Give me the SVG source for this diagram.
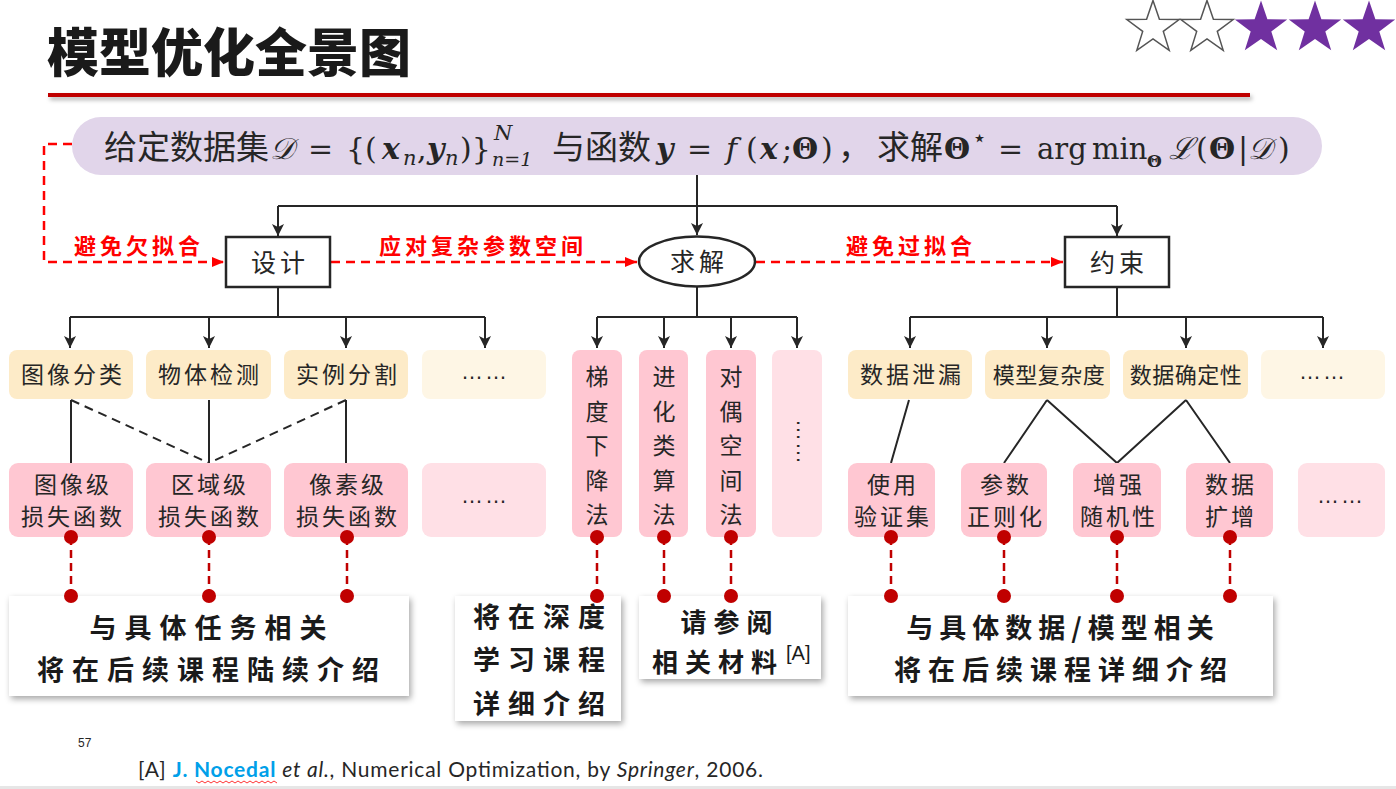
<svg xmlns="http://www.w3.org/2000/svg" width="1396" height="789" viewBox="0 0 1396 789">
<defs>
<style>
.cjk{font-family:"Noto Sans CJK SC",sans-serif;}
.m{font-family:"DejaVu Serif","Liberation Serif",serif;font-size:30px;fill:#262626;}
.bi{font-weight:bold;font-style:italic;}
.it{font-style:italic;}
.b{font-weight:bold;}
.sm{font-size:21px;}
.fc{font-family:"Noto Sans CJK SC",sans-serif;font-size:33px;fill:#262626;}
.node{font-family:"Noto Sans CJK SC",sans-serif;font-size:23px;fill:#262626;letter-spacing:3px;text-anchor:middle;}
.ell{font-family:"Liberation Sans",sans-serif;font-size:22px;fill:#262626;letter-spacing:2px;text-anchor:middle;}
.vt{font-family:"Noto Sans CJK SC",sans-serif;font-size:23px;fill:#262626;text-anchor:middle;}
.lbl{font-family:"Noto Sans CJK SC",sans-serif;font-size:22px;font-weight:bold;fill:#FF0000;letter-spacing:4px;}
.note{font-family:"Noto Sans CJK SC",sans-serif;font-size:27px;font-weight:bold;fill:#1a1a1a;letter-spacing:8px;text-anchor:middle;}
.yel{fill:#FDEBC8;}
.yel2{fill:#FEF6E5;}
.pk{fill:#FFC7D2;}
.pk2{fill:#FFE0E6;}
.blk{stroke:#262626;stroke-width:2;fill:none;}
.blka{stroke:#262626;stroke-width:2;fill:none;marker-end:url(#ab);}
.dsh{stroke:#262626;stroke-width:2;fill:none;stroke-dasharray:9,6;}
.red{stroke:#FF0000;stroke-width:2.5;fill:none;stroke-dasharray:9,6;}
.reda{stroke:#FF0000;stroke-width:2.5;fill:none;stroke-dasharray:9,6;marker-end:url(#ar);}
.dr{stroke:#C00000;stroke-width:2.5;fill:none;stroke-dasharray:8,5;}
.dot{fill:#C00000;}
.box{fill:#ffffff;stroke:#262626;stroke-width:2.5;}
.card{fill:#ffffff;filter:url(#sh);}
</style>
<marker id="ab" markerUnits="userSpaceOnUse" markerWidth="14" markerHeight="14" refX="12" refY="6" orient="auto">
<path d="M0,0 L12,6 L0,12 L3,6 Z" fill="#262626"/>
</marker>
<marker id="ar" markerUnits="userSpaceOnUse" markerWidth="14" markerHeight="14" refX="12" refY="6" orient="auto">
<path d="M0,1 L12,6 L0,11 Z" fill="#FF0000"/>
</marker>
<filter id="sh" x="-10%" y="-15%" width="125%" height="140%">
<feDropShadow dx="2" dy="3" stdDeviation="3" flood-color="#000" flood-opacity="0.35"/>
</filter>
<filter id="sh2" x="-2%" y="-100%" width="104%" height="400%">
<feDropShadow dx="2" dy="3" stdDeviation="2" flood-color="#000" flood-opacity="0.3"/>
</filter>
<path id="star" d="M0,-27.6 L6.4,-8.8 L26.2,-8.5 L10.3,3.4 L16.2,22.3 L0,10.9 L-16.2,22.3 L-10.3,3.4 L-26.2,-8.5 L-6.4,-8.8 Z"/>
</defs>

<rect width="1396" height="789" fill="#ffffff"/>

<g id="header">
<text x="47" y="72" class="cjk" font-size="52" font-weight="900" fill="#1a1a1a">模型优化全景图</text>
<rect x="48" y="93" width="1202" height="4" fill="#C00000" filter="url(#sh2)"/>
</g>

<g id="stars">
<use href="#star" x="1153" y="28" fill="#ffffff" stroke="#555555" stroke-width="1.5"/>
<use href="#star" x="1207" y="28" fill="#ffffff" stroke="#555555" stroke-width="1.5"/>
<use href="#star" x="1261" y="28" fill="#7030A0"/>
<use href="#star" x="1315" y="28" fill="#7030A0"/>
<use href="#star" x="1369" y="28" fill="#7030A0"/>
</g>

<g id="formula">
<rect x="72" y="117" width="1250" height="58" rx="29" fill="#E1D5EA"/>
<text class="fc" x="104" y="159">给定数据集</text>
<text class="m it" x="270" y="159">𝒟</text>
<text class="m" x="308" y="159">=</text>
<text class="m" x="346" y="159">{(</text>
<text class="m bi" x="382" y="159">x</text>
<text class="m it sm" x="403" y="165">n</text>
<text class="m" x="417" y="159">,</text>
<text class="m bi" x="427" y="159">y</text>
<text class="m it sm" x="445" y="165">n</text>
<text class="m" x="460" y="159">)}</text>
<text class="m it sm" x="494" y="140">N</text>
<text class="m it" x="492" y="166" style="font-size:19px">n=1</text>
<text class="fc" x="552" y="159">与函数</text>
<text class="m bi" x="656" y="159">y</text>
<text class="m" x="687" y="159">=</text>
<text class="m it" x="726" y="159">f</text>
<text class="m" x="746" y="159">(</text>
<text class="m bi" x="760" y="159">x</text>
<text class="m" x="782" y="159">;</text>
<text class="m b" x="792" y="159">Θ</text>
<text class="m" x="821" y="159">)</text>
<text class="fc" x="838" y="159">，</text>
<text class="fc" x="877" y="159">求解</text>
<text class="m b" x="944" y="159">Θ</text>
<text class="m" x="972" y="146" style="font-size:24px">⋆</text>
<text class="m" x="998" y="159">=</text>
<text class="m" x="1037" y="159" style="font-size:29px">arg</text>
<text class="m" x="1092" y="159" style="font-size:29px">min</text>
<text class="m b" x="1147" y="167" style="font-size:17px">Θ</text>
<text class="m it" x="1169" y="159">ℒ</text>
<text class="m" x="1196" y="159">(</text>
<text class="m b" x="1209" y="159">Θ</text>
<text class="m" x="1238" y="159">|</text>
<text class="m it" x="1248" y="159">𝒟</text>
<text class="m" x="1278" y="159">)</text>
</g>

<g id="connectors">
<path class="blk" d="M697,175 V206 M278,206 H1117"/>
<path class="blka" d="M278,206 V236"/>
<path class="blka" d="M697,206 V235"/>
<path class="blka" d="M1117,206 V236"/>
<path class="blk" d="M278,287 V317 M70,317 H485"/>
<path class="blka" d="M70,317 V348"/>
<path class="blka" d="M209,317 V348"/>
<path class="blka" d="M346,317 V348"/>
<path class="blka" d="M485,317 V348"/>
<path class="blk" d="M697,287 V317 M597,317 H797"/>
<path class="blka" d="M597,317 V348"/>
<path class="blka" d="M664,317 V348"/>
<path class="blka" d="M731,317 V348"/>
<path class="blka" d="M797,317 V348"/>
<path class="blk" d="M1117,287 V317 M910,317 H1323"/>
<path class="blka" d="M910,317 V348"/>
<path class="blka" d="M1047,317 V348"/>
<path class="blka" d="M1186,317 V348"/>
<path class="blka" d="M1323,317 V348"/>
<path class="blk" d="M71,400 V463 M209,400 V463 M346,400 V463"/>
<path class="dsh" d="M71,400 L209,463 M346,400 L209,463"/>
<path class="blk" d="M909,400 L891,463 M1047,400 L1004,463 M1047,400 L1117,463 M1186,400 L1117,463 M1186,400 L1230,463"/>
<path class="red" d="M72,144 H44 V262 H214"/>
<path class="reda" d="M214,262 H224"/>
<path class="reda" d="M331,262 H637"/>
<path class="reda" d="M756,262 H1063"/>
<path class="dr" d="M71,537 V596 M209,537 V596 M347,537 V596 M597,537 V596 M664,537 V596 M731,537 V596 M891,537 V596 M1004,537 V596 M1117,537 V596 M1230,537 V596"/>
</g>

<g id="edge-labels">
<text class="lbl" x="74" y="254">避免欠拟合</text>
<text class="lbl" x="379" y="254">应对复杂参数空间</text>
<text class="lbl" x="846" y="254">避免过拟合</text>
</g>

<g id="n-design">
<rect class="box" x="226" y="237" width="104" height="50"/>
<text class="node" x="280" y="272" style="font-size:25px;letter-spacing:4px">设计</text>
</g>
<g id="n-solve">
<ellipse class="box" cx="697" cy="261.5" rx="58" ry="25"/>
<text class="node" x="699" y="271" style="font-size:25px;letter-spacing:4px">求解</text>
</g>
<g id="n-constraint">
<rect class="box" x="1065" y="237" width="104" height="50"/>
<text class="node" x="1119" y="272" style="font-size:25px;letter-spacing:4px">约束</text>
</g>

<g id="n-cls"><rect class="yel" x="9" y="350" width="124" height="49" rx="8"/><text class="node" x="73" y="383">图像分类</text></g>
<g id="n-det"><rect class="yel" x="146" y="350" width="125" height="49" rx="8"/><text class="node" x="210" y="383">物体检测</text></g>
<g id="n-seg"><rect class="yel" x="284" y="350" width="124" height="49" rx="8"/><text class="node" x="348" y="383">实例分割</text></g>
<g id="n-more1"><rect class="yel2" x="422" y="350" width="124" height="49" rx="8"/><text class="ell" x="485" y="379">……</text></g>

<g id="n-imgloss"><rect class="pk" x="9" y="463" width="124" height="74" rx="9"/><text class="node" x="73" y="493">图像级</text><text class="node" x="73" y="525">损失函数</text></g>
<g id="n-regloss"><rect class="pk" x="146" y="463" width="125" height="74" rx="9"/><text class="node" x="210" y="493">区域级</text><text class="node" x="210" y="525">损失函数</text></g>
<g id="n-pixloss"><rect class="pk" x="284" y="463" width="124" height="74" rx="9"/><text class="node" x="348" y="493">像素级</text><text class="node" x="348" y="525">损失函数</text></g>
<g id="n-more2"><rect class="pk2" x="422" y="463" width="124" height="74" rx="9"/><text class="ell" x="485" y="503">……</text></g>

<g id="n-gd"><rect class="pk" x="572" y="350" width="50" height="187" rx="8"/>
<text class="vt"><tspan x="597" y="385">梯</tspan><tspan x="597" y="419.5">度</tspan><tspan x="597" y="454">下</tspan><tspan x="597" y="488.5">降</tspan><tspan x="597" y="523">法</tspan></text></g>
<g id="n-evo"><rect class="pk" x="639" y="350" width="49" height="187" rx="8"/>
<text class="vt"><tspan x="664" y="385">进</tspan><tspan x="664" y="419.5">化</tspan><tspan x="664" y="454">类</tspan><tspan x="664" y="488.5">算</tspan><tspan x="664" y="523">法</tspan></text></g>
<g id="n-dual"><rect class="pk" x="706" y="350" width="50" height="187" rx="8"/>
<text class="vt"><tspan x="731" y="385">对</tspan><tspan x="731" y="419.5">偶</tspan><tspan x="731" y="454">空</tspan><tspan x="731" y="488.5">间</tspan><tspan x="731" y="523">法</tspan></text></g>
<g id="n-more3"><rect class="pk2" x="772" y="350" width="50" height="187" rx="8"/>
<text x="804" y="442" style="font-family:'Liberation Sans',sans-serif;font-size:22px;fill:#262626;text-anchor:middle;letter-spacing:1px" writing-mode="tb">……</text></g>

<g id="n-leak"><rect class="yel" x="848" y="350" width="124" height="49" rx="8"/><text class="node" x="912" y="383">数据泄漏</text></g>
<g id="n-complex"><rect class="yel" x="985" y="350" width="125" height="49" rx="8"/><text class="node" x="1049" y="383" style="letter-spacing:0.5px;font-size:22px">模型复杂度</text></g>
<g id="n-cert"><rect class="yel" x="1123" y="350" width="125" height="49" rx="8"/><text class="node" x="1186" y="383" style="letter-spacing:0.5px;font-size:22px">数据确定性</text></g>
<g id="n-more4"><rect class="yel2" x="1261" y="350" width="124" height="49" rx="8"/><text class="ell" x="1323" y="379">……</text></g>

<g id="n-val"><rect class="pk" x="848" y="463" width="87" height="74" rx="9"/><text class="node" x="893" y="493">使用</text><text class="node" x="893" y="525">验证集</text></g>
<g id="n-reg"><rect class="pk" x="961" y="463" width="86" height="74" rx="9"/><text class="node" x="1006" y="493">参数</text><text class="node" x="1006" y="525">正则化</text></g>
<g id="n-rand"><rect class="pk" x="1073" y="463" width="88" height="74" rx="9"/><text class="node" x="1119" y="493">增强</text><text class="node" x="1119" y="525">随机性</text></g>
<g id="n-aug"><rect class="pk" x="1186" y="463" width="87" height="74" rx="9"/><text class="node" x="1231" y="493">数据</text><text class="node" x="1231" y="525">扩增</text></g>
<g id="n-more5"><rect class="pk2" x="1298" y="463" width="87" height="74" rx="9"/><text class="ell" x="1341" y="503">……</text></g>

<g id="note-task">
<rect class="card" x="9" y="596" width="400" height="100"/>
<text class="note" x="212" y="638">与具体任务相关</text>
<text class="note" x="212" y="680">将在后续课程陆续介绍</text>
</g>
<g id="note-dl">
<rect class="card" x="455" y="596" width="166" height="125"/>
<text class="note" x="543" y="627">将在深度</text>
<text class="note" x="543" y="670">学习课程</text>
<text class="note" x="543" y="714">详细介绍</text>
</g>
<g id="note-ref">
<rect class="card" x="639" y="596" width="182" height="83"/>
<text class="note" x="730" y="632" style="font-size:26px;letter-spacing:7px">请参阅</text>
<text class="note" x="718" y="672" style="font-size:26px;letter-spacing:7px">相关材料</text>
<text x="786" y="660" font-family="Liberation Sans" font-size="20" fill="#1a1a1a">[A]</text>
</g>
<g id="note-data">
<rect class="card" x="848" y="596" width="425" height="100"/>
<text class="note" x="1063" y="638" style="letter-spacing:6px">与具体数据/模型相关</text>
<text class="note" x="1064" y="680" style="letter-spacing:7px">将在后续课程详细介绍</text>
</g>

<g id="dots">
<circle class="dot" cx="71" cy="537" r="7"/><circle class="dot" cx="209" cy="537" r="7"/><circle class="dot" cx="347" cy="537" r="7"/>
<circle class="dot" cx="597" cy="537" r="7"/><circle class="dot" cx="664" cy="537" r="7"/><circle class="dot" cx="731" cy="537" r="7"/>
<circle class="dot" cx="891" cy="537" r="7"/><circle class="dot" cx="1004" cy="537" r="7"/><circle class="dot" cx="1117" cy="537" r="7"/><circle class="dot" cx="1230" cy="537" r="7"/>
<circle class="dot" cx="71" cy="596" r="7"/><circle class="dot" cx="209" cy="596" r="7"/><circle class="dot" cx="347" cy="596" r="7"/>
<circle class="dot" cx="597" cy="596" r="7"/><circle class="dot" cx="664" cy="596" r="7"/><circle class="dot" cx="731" cy="596" r="7"/>
<circle class="dot" cx="891" cy="596" r="7"/><circle class="dot" cx="1004" cy="596" r="7"/><circle class="dot" cx="1117" cy="596" r="7"/><circle class="dot" cx="1230" cy="596" r="7"/>
</g>

<g id="footer">
<text x="78" y="747" font-family="Liberation Sans" font-size="12" fill="#262626">57</text>
<text x="138" y="777" font-family="Lato,'Liberation Sans',sans-serif" font-size="21" fill="#262626" textLength="625" lengthAdjust="spacing">[A] <tspan font-weight="bold" fill="#00A0E9">J. Nocedal</tspan> <tspan font-style="italic">et al.</tspan>, Numerical Optimization, by <tspan font-style="italic">Springer</tspan>, 2006.</text>
<path d="M196,781 l3,2 l3,-2 l3,2 l3,-2 l3,2 l3,-2 l3,2 l3,-2 l3,2 l3,-2 l3,2 l3,-2 l3,2 l3,-2 l3,2 l3,-2 l3,2 l3,-2 l3,2 l3,-2 l3,2 l3,-2 l3,2 l3,-2 l3,2 l3,-2 l3,2" fill="none" stroke="#FF0000" stroke-width="0.8"/>
<rect x="0" y="786" width="1396" height="3" fill="#E6E6E6"/>
</g>
</svg>
